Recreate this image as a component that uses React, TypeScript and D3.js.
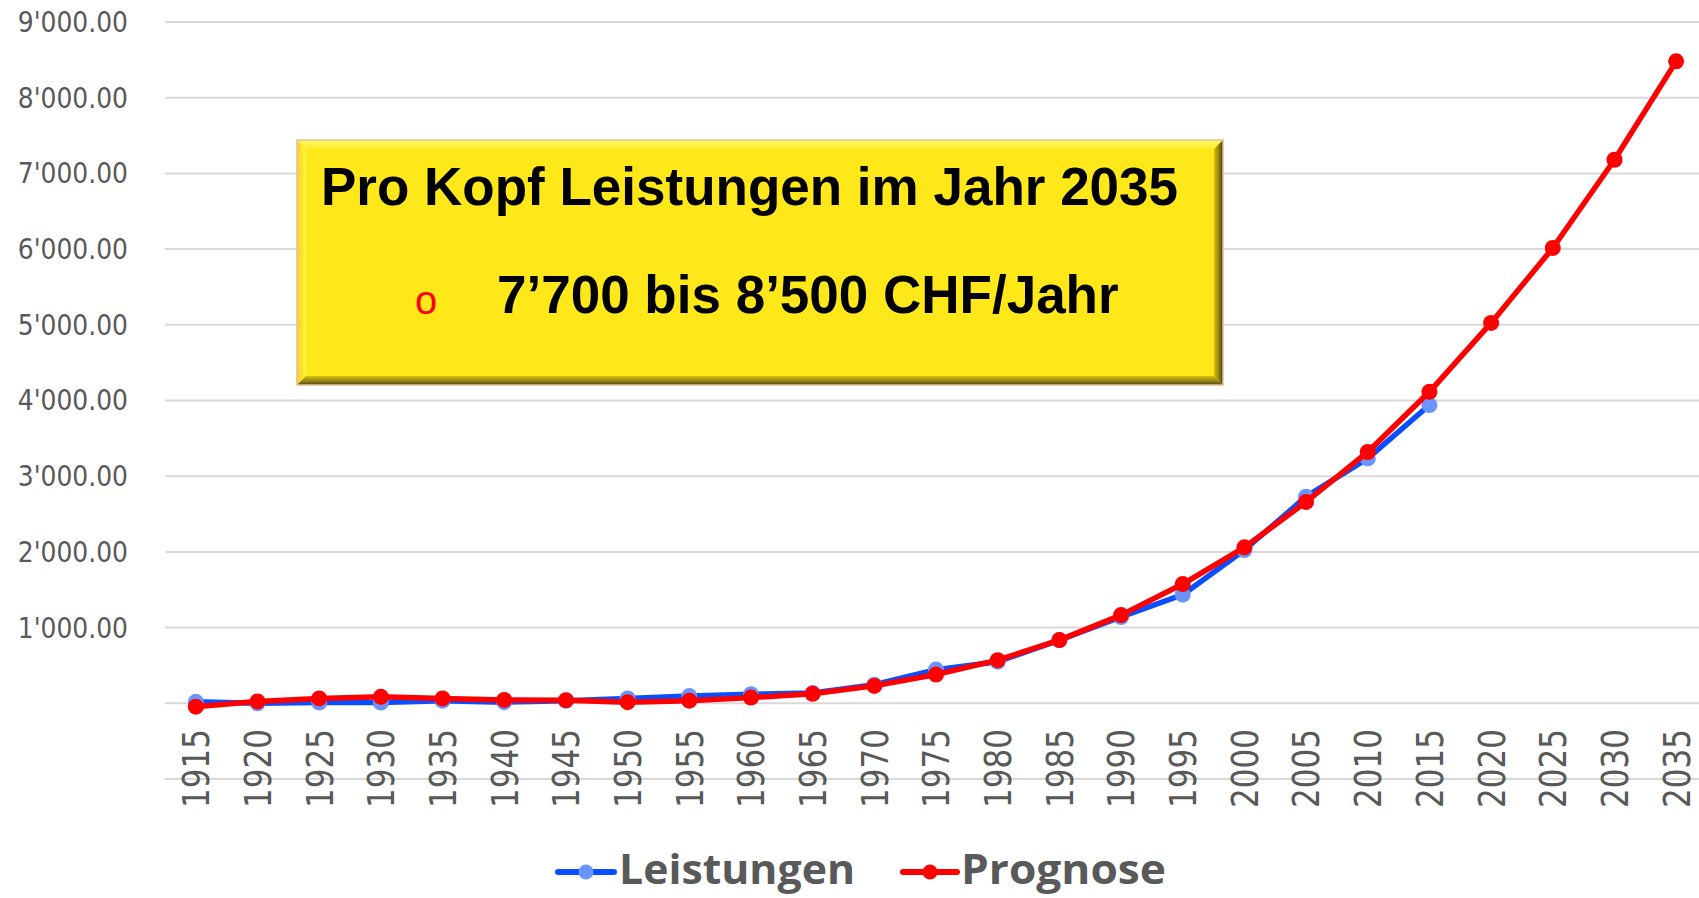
import React from "react";
import * as d3 from "d3";

const years = ["1915","1920","1925","1930","1935","1940","1945","1950","1955","1960","1965","1970","1975","1980","1985","1990","1995","2000","2005","2010","2015","2020","2025","2030","2035"];
const leistungen = [20, 0, 10, 10, 35, 15, 35, 65, 95, 120, 135, 245, 445, 550, 835, 1140, 1435, 2025, 2730, 3235, 3940];
const prognose = [-45, 25, 65, 85, 65, 45, 40, 15, 35, 75, 125, 230, 380, 570, 835, 1165, 1575, 2060, 2660, 3320, 4115, 5025, 6015, 7180, 8480];
const yTicks = [1000, 2000, 3000, 4000, 5000, 6000, 7000, 8000, 9000];
const gridValues = [-1000, 0, 1000, 2000, 3000, 4000, 5000, 6000, 7000, 8000, 9000];
const seriesNames = ["Leistungen", "Prognose"];
const boxTitle = "Pro Kopf Leistungen im Jahr 2035";
const boxLine = "7’700 bis 8’500 CHF/Jahr";

const W = 1699, H = 898;
const GRAY = "#595959";

export default function App() {
  const x = d3.scaleBand<string>().domain(years).range([165, 1707]);
  const cx = (i: number) => (x(years[i]) as number) + x.bandwidth() / 2;
  const y = d3.scaleLinear().domain([-1000, 9000]).range([779, 22]);
  const fmt = (v: number) => d3.format(",.2f")(v).replace(/,/g, "'");
  const line = d3.line<number>().x((_, i) => cx(i)).y((d) => y(d));

  const bx0 = 297, by0 = 140, bx1 = 1223, by1 = 385, bv = 9;

  return (
    <svg width={W} height={H} style={{ position: "absolute", left: 0, top: 0, background: "#fff" }}>
      <defs>
        <linearGradient id="rg" x1="0" x2="1" y1="0" y2="0">
          <stop offset="0" stopColor="#d9c20e" />
          <stop offset="0.6" stopColor="#8a7a10" />
          <stop offset="1" stopColor="#3c3622" />
        </linearGradient>
        <linearGradient id="bg" x1="0" x2="0" y1="0" y2="1">
          <stop offset="0" stopColor="#d9c20e" />
          <stop offset="0.6" stopColor="#8f7f12" />
          <stop offset="1" stopColor="#4a4224" />
        </linearGradient>
        <linearGradient id="tg" x1="0" x2="0" y1="0" y2="1">
          <stop offset="0" stopColor="#fff86a" />
          <stop offset="1" stopColor="#ffec28" />
        </linearGradient>
        <linearGradient id="lg" x1="0" x2="1" y1="0" y2="0">
          <stop offset="0" stopColor="#f2d21a" />
          <stop offset="1" stopColor="#fff24a" />
        </linearGradient>
      </defs>

      {gridValues.map((v) => (
        <line key={v} x1={165} x2={W} y1={y(v)} y2={y(v)} stroke="#d9d9d9" strokeWidth={2} />
      ))}

      {yTicks.map((v) => (
        <text key={v} transform={`translate(128,${y(v)}) scale(1,1.1)`} textAnchor="end" dy="0.36em"
          fontFamily="DejaVu Sans" fontSize={25} fill={GRAY}>{fmt(v)}</text>
      ))}

      {years.map((yr, i) => (
        <text key={yr} transform={`translate(${cx(i)},729) rotate(-90) scale(1,1.2)`} textAnchor="end" dy="0.36em"
          fontFamily="DejaVu Sans" fontSize={31} fill={GRAY}>{yr}</text>
      ))}

      {/* yellow box */}
      <rect x={bx0} y={by0} width={bx1 - bx0} height={by1 - by0} fill="#ffe81a" />
      <polygon points={`${bx0},${by0} ${bx1},${by0} ${bx1 - bv},${by0 + bv} ${bx0 + bv},${by0 + bv}`} fill="url(#tg)" />
      <polygon points={`${bx0},${by0} ${bx0 + bv},${by0 + bv} ${bx0 + bv},${by1 - bv} ${bx0},${by1}`} fill="url(#lg)" />
      <polygon points={`${bx1},${by0} ${bx1},${by1} ${bx1 - bv},${by1 - bv} ${bx1 - bv},${by0 + bv}`} fill="url(#rg)" />
      <polygon points={`${bx0},${by1} ${bx1},${by1} ${bx1 - bv},${by1 - bv} ${bx0 + bv},${by1 - bv}`} fill="url(#bg)" />
      <rect x={bx0} y={by0} width={bx1 - bx0} height={by1 - by0} fill="none" stroke="#e9bf98" strokeWidth={1.5} />

      <text x={321} y={205} fontFamily="Liberation Sans, Arial" fontWeight="bold" fontSize={53} fill="#000">{boxTitle}</text>
      <text x={415} y={314} fontFamily="Liberation Sans, Arial" fontSize={40} fill="#ff0000">o</text>
      <text x={497} y={313} fontFamily="Liberation Sans, Arial" fontWeight="bold" fontSize={53} fill="#000">{boxLine}</text>

      {/* series */}
      <path d={line(leistungen) as string} fill="none" stroke="#0a4fff" strokeWidth={5.5} strokeLinejoin="round" />
      {leistungen.map((v, i) => (
        <circle key={"l" + i} cx={cx(i)} cy={y(v)} r={8} fill="#6a94ff" />
      ))}
      <path d={line(prognose) as string} fill="none" stroke="#ff0000" strokeWidth={5.5} strokeLinejoin="round" />
      {prognose.map((v, i) => (
        <circle key={"p" + i} cx={cx(i)} cy={y(v)} r={8} fill="#ff0000" />
      ))}

      {/* legend */}
      <line x1={558} x2={614} y1={872} y2={872} stroke="#0a4fff" strokeWidth={6} strokeLinecap="round" />
      <circle cx={586} cy={872} r={7.5} fill="#6a94ff" />
      <text x={619} y={884} fontFamily="Open Sans" fontWeight="bold" fontSize={41} fill={GRAY}
        textLength={236} lengthAdjust="spacingAndGlyphs">{seriesNames[0]}</text>
      <line x1={903} x2={957} y1={872} y2={872} stroke="#ff0000" strokeWidth={6} strokeLinecap="round" />
      <circle cx={930} cy={872} r={7.5} fill="#ff0000" />
      <text x={961} y={884} fontFamily="Open Sans" fontWeight="bold" fontSize={41} fill={GRAY}
        textLength={205} lengthAdjust="spacingAndGlyphs">{seriesNames[1]}</text>
    </svg>
  );
}
